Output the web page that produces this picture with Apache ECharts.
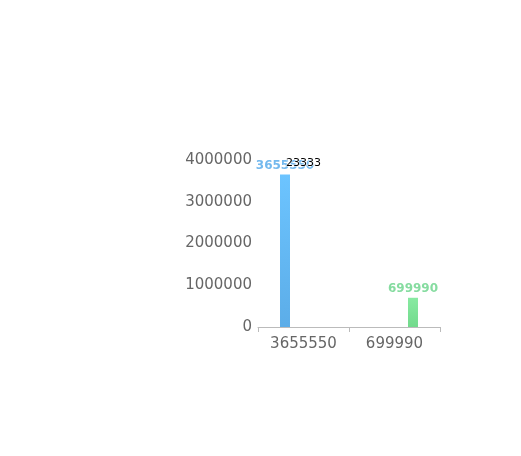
<!DOCTYPE html>
<html>
<head>
    <meta charset="UTF-8">
    <title>bar</title>
    <script src="https://cdn.jsdelivr.net/npm/echarts/dist/echarts.min.js"></script>
    <style>
        html, body { margin: 0; padding: 0; background: #fff; }
        #chart { width: 521px; height: 456px; }
    </style>
</head>
<body>
<div id="chart"></div>
<script>
    // 数据
    const categories = ['3655550', '699990'];
    const blueValues = [3655550, '-'];
    const midValues = [3655550, '-'];   // 中间那个黑色标签
    const greenValues = ['-', 699990];
    const midLabel = '23333';
    const yTicks = { min: 0, max: 4000000, interval: 1000000 };

    const chart = echarts.init(document.getElementById('chart'));
    const axisFont = { color: '#666', fontSize: 15, fontFamily: 'DejaVu Sans' };

    const option = {
        animation: false,
        grid: { left: 258, right: 81, top: 160, bottom: 129 },
        xAxis: {
            type: 'category',
            data: categories,
            axisLine: { lineStyle: { color: '#bbb' } },
            axisTick: { show: true, lineStyle: { color: '#bbb' } },
            axisLabel: Object.assign({ margin: 10, interval: 0 }, axisFont)
        },
        yAxis: {
            type: 'value',
            min: yTicks.min,
            max: yTicks.max,
            interval: yTicks.interval,
            axisLine: { show: false },
            axisTick: { show: false },
            splitLine: { show: false },
            axisLabel: Object.assign({ margin: 6, formatter: v => String(v) }, axisFont)
        },
        series: [
            {
                type: 'bar',
                data: blueValues,
                barWidth: 10,
                barGap: '85%',
                itemStyle: {
                    color: new echarts.graphic.LinearGradient(0, 0, 0, 1, [
                        { offset: 0, color: '#6cc4ff' },
                        { offset: 1, color: '#5cade8' }
                    ])
                },
                label: {
                    show: true, position: 'top', distance: 3,
                    color: '#74b9ee', fontSize: 12, fontWeight: 'bold', fontFamily: 'DejaVu Sans'
                }
            },
            {
                type: 'bar',
                data: midValues,
                barWidth: 10,
                barGap: '85%',
                itemStyle: { color: 'rgba(0,0,0,0)' },
                label: {
                    show: true, position: 'top', distance: 6,
                    formatter: midLabel,
                    color: '#000', fontSize: 11, fontFamily: 'DejaVu Sans',
                    textBorderColor: '#fff', textBorderWidth: 1
                }
            },
            {
                type: 'bar',
                data: greenValues,
                barWidth: 10,
                barGap: '85%',
                itemStyle: {
                    color: new echarts.graphic.LinearGradient(0, 0, 0, 1, [
                        { offset: 0, color: '#88eaa2' },
                        { offset: 1, color: '#72da8c' }
                    ])
                },
                label: {
                    show: true, position: 'top', distance: 3,
                    color: '#86dca0', fontSize: 12, fontWeight: 'bold', fontFamily: 'DejaVu Sans'
                }
            }
        ]
    };
    chart.setOption(option);
</script>
</body>
</html>
